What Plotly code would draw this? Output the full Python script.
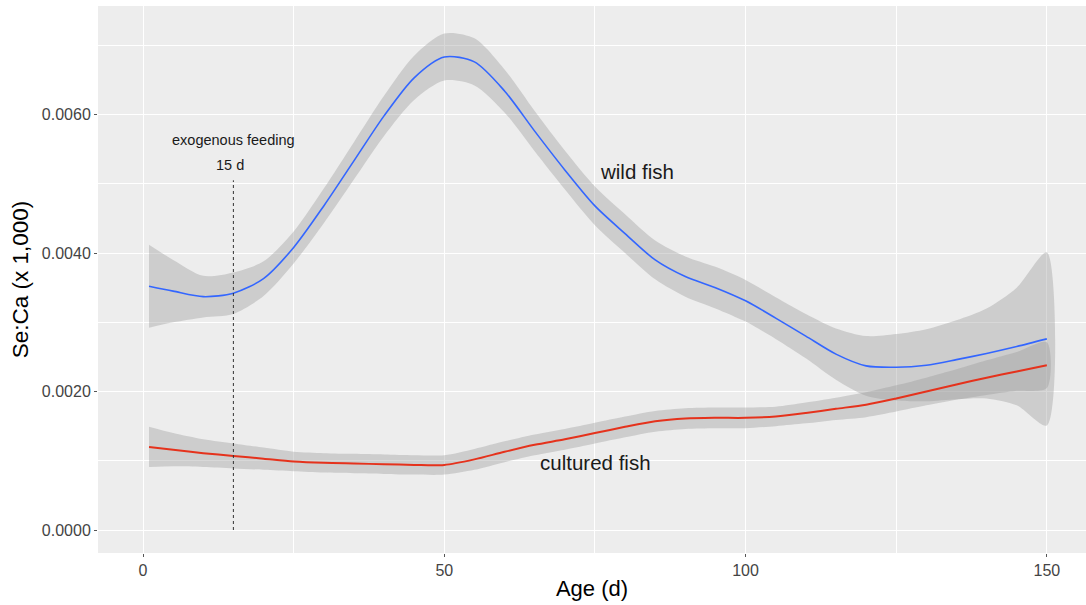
import plotly.graph_objects as go

# ---- data ----
age = [1, 5, 10, 15, 20, 25, 30, 35, 40, 45, 50, 55, 60, 65, 70, 75, 80, 85, 90, 95,
       100, 105, 110, 115, 120, 125, 130, 135, 140, 145, 150]

wild_fit = [0.00352, 0.00345, 0.00337, 0.00342, 0.00363, 0.00408, 0.00468, 0.00533, 0.00598,
            0.00653, 0.00683, 0.00676, 0.00634, 0.00576, 0.00520, 0.00468, 0.00428, 0.00390,
            0.00366, 0.00350, 0.00331, 0.00306, 0.00280, 0.00254, 0.00237, 0.00235, 0.00238,
            0.00246, 0.00255, 0.00265, 0.00276]
wild_ci = [0.00060, 0.00045, 0.00030, 0.00030, 0.00025, 0.00023, 0.00025, 0.00027, 0.00029,
           0.00032, 0.00034, 0.00034, 0.00031, 0.00029, 0.00028, 0.00028, 0.00028, 0.00028,
           0.00029, 0.00030, 0.00030, 0.00030, 0.00032, 0.00037, 0.00043, 0.00048, 0.00052,
           0.00057, 0.00065, 0.00085, 0.00125]

cult_fit = [0.00120, 0.00116, 0.00111, 0.00107, 0.00103, 0.00099, 0.00097, 0.00096, 0.00095,
            0.00094, 0.00094, 0.00102, 0.00113, 0.00123, 0.00131, 0.00140, 0.00149, 0.00157,
            0.00161, 0.00162, 0.00162, 0.00164, 0.00169, 0.00175, 0.00181, 0.00190, 0.00200,
            0.00210, 0.00220, 0.00229, 0.00238]
cult_ci = [0.00029, 0.00024, 0.00020, 0.00018, 0.00016, 0.00014, 0.00014, 0.00014, 0.00014,
           0.00014, 0.00014, 0.00015, 0.00015, 0.00015, 0.00015, 0.00015, 0.00015, 0.00015,
           0.00015, 0.00015, 0.00015, 0.00014, 0.00015, 0.00016, 0.00018, 0.00019, 0.00020,
           0.00022, 0.00025, 0.00028, 0.00033]

feeding_day = [15, 15]
feeding_line_y = [0.0, 0.00505]

x_ticks = [0, 50, 100, 150]
y_ticks = [0.0, 0.002, 0.004, 0.006]
y_tick_labels = ["0.0000", "0.0020", "0.0040", "0.0060"]

# ---- figure ----
band_fill = "rgba(153,153,153,0.38)"
fig = go.Figure()


def add_band(fit, ci):
    upper = [f + c for f, c in zip(fit, ci)]
    lower = [f - c for f, c in zip(fit, ci)]
    fig.add_trace(go.Scatter(
        x=age + age[::-1], y=upper + lower[::-1], fill="toself",
        fillcolor=band_fill, line=dict(width=0, shape="spline", smoothing=0.8),
        mode="lines", hoverinfo="skip", showlegend=False))


add_band(wild_fit, wild_ci)
add_band(cult_fit, cult_ci)

fig.add_trace(go.Scatter(x=age, y=wild_fit, mode="lines",
                         line=dict(color="#3366FF", width=1.6, shape="spline", smoothing=0.8),
                         showlegend=False, name="wild fish"))
fig.add_trace(go.Scatter(x=age, y=cult_fit, mode="lines",
                         line=dict(color="#E5321C", width=2, shape="spline", smoothing=0.8),
                         showlegend=False, name="cultured fish"))

fig.add_trace(go.Scatter(x=feeding_day, y=feeding_line_y, mode="lines",
                         line=dict(color="#333333", width=1, dash="dot"),
                         showlegend=False, hoverinfo="skip"))

font_family = "Liberation Sans, Arial, sans-serif"
annots = [
    dict(x=15, y=0.00563, text="exogenous feeding", size=14.5),
    dict(x=14.5, y=0.00527, text="15 d", size=14.5),
    dict(x=81.9, y=0.00517, text="wild fish", size=20.5),
    dict(x=75.1, y=0.00098, text="cultured fish", size=20.5),
]
for a in annots:
    fig.add_annotation(x=a["x"], y=a["y"], text=a["text"], showarrow=False,
                       xanchor="center", yanchor="middle",
                       font=dict(family=font_family, size=a["size"], color="#1a1a1a"))

fig.update_layout(
    width=1086, height=605,
    margin=dict(l=98, r=0, t=6, b=52),
    paper_bgcolor="white", plot_bgcolor="#EDEDED",
    font=dict(family=font_family),
    showlegend=False,
)
fig.update_xaxes(
    range=[-7.47, 156.5], tickvals=x_ticks, ticktext=[str(v) for v in x_ticks],
    showgrid=True, gridcolor="white", gridwidth=1.2,
    minor=dict(tickvals=[25, 75, 125], showgrid=True, gridcolor="white", gridwidth=0.6),
    zeroline=False, showline=False,
    ticks="outside", ticklen=3, tickcolor="#555555",
    tickfont=dict(size=16, color="#444444"),
    title=dict(text="Age (d)", font=dict(size=22, color="black"), standoff=2),
)
fig.update_yaxes(
    range=[-0.000332, 0.007567], tickvals=y_ticks, ticktext=y_tick_labels,
    showgrid=True, gridcolor="white", gridwidth=1.2,
    minor=dict(tickvals=[0.001, 0.003, 0.005, 0.007], showgrid=True, gridcolor="white", gridwidth=0.6),
    zeroline=False, showline=False,
    ticks="outside", ticklen=3, tickcolor="#555555",
    tickfont=dict(size=16, color="#444444"),
    title=dict(text="Se:Ca (x 1,000)", font=dict(size=22.5, color="black"), standoff=6),
)

fig.write_html("out.html", config={"displayModeBar": False},
               post_script="document.body.style.margin='0';")
